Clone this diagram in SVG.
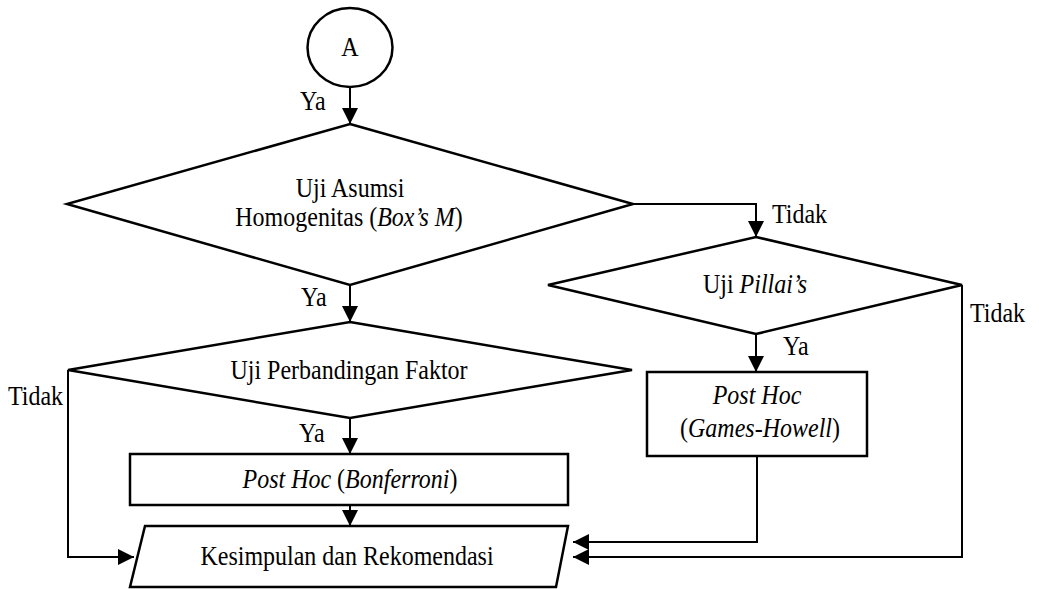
<svg xmlns="http://www.w3.org/2000/svg" width="1039" height="589" viewBox="0 0 1039 589">
<style>
.shape{fill:#fff;stroke:#000;stroke-width:2.5;stroke-linejoin:miter}
.conn{fill:none;stroke:#000;stroke-width:2}
text{font-family:"Liberation Serif","Times New Roman",serif;font-size:24px;fill:#000}
.c{text-anchor:middle}
.i{font-style:italic}
</style>
<defs>
<marker id="arr" markerUnits="userSpaceOnUse" markerWidth="16" markerHeight="16" refX="16" refY="8" orient="auto">
<path d="M0,0 L16,8 L0,16 z" fill="#000"/>
</marker>
</defs>
<rect width="1039" height="589" fill="#fff"/>
<g id="connectors">
<line class="conn" x1="350" y1="87" x2="350" y2="124" marker-end="url(#arr)"/>
<polyline class="conn" points="633,204 756,204 756,237" marker-end="url(#arr)"/>
<line class="conn" x1="350" y1="285" x2="350" y2="322" marker-end="url(#arr)"/>
<line class="conn" x1="350" y1="418" x2="350" y2="454" marker-end="url(#arr)"/>
<line class="conn" x1="350" y1="505" x2="350" y2="526" marker-end="url(#arr)"/>
<polyline class="conn" points="68,370 68,557 134,557" marker-end="url(#arr)"/>
<line class="conn" x1="756" y1="334" x2="756" y2="372" marker-end="url(#arr)"/>
<polyline class="conn" points="757,456 757,542 573,542" marker-end="url(#arr)"/>
<polyline class="conn" points="962,285 962,557 573,557" marker-end="url(#arr)"/>
<text transform="translate(300,110) scale(1,1.1)">Ya</text>
<text transform="translate(772,223) scale(1,1.1)">Tidak</text>
<text transform="translate(301,306) scale(1,1.1)">Ya</text>
<text transform="translate(8,405) scale(1,1.1)">Tidak</text>
<text transform="translate(299,442) scale(1,1.1)">Ya</text>
<text transform="translate(783,355) scale(1,1.1)">Ya</text>
<text transform="translate(970,322) scale(1,1.1)">Tidak</text>
</g>
<g id="node-a">
<ellipse class="shape" cx="350" cy="47.5" rx="42.5" ry="39.5"/>
<text class="c" transform="translate(350,56) scale(1,1.1)">A</text>
</g>
<g id="node-box-m">
<polygon class="shape" points="350,124 633,204 350,285 67,204"/>
<text class="c" transform="translate(350,197) scale(1,1.1)">Uji Asumsi</text>
<text class="c" transform="translate(349,226) scale(1,1.1)">Homogenitas (<tspan class="i">Box’s M</tspan>)</text>
</g>
<g id="node-pillai">
<polygon class="shape" points="756,237 962,285 756,334 548,285"/>
<text class="c" transform="translate(755,293) scale(1,1.1)">Uji <tspan class="i">Pillai’s</tspan></text>
</g>
<g id="node-faktor">
<polygon class="shape" points="350,322 632,370 350,418 68,370"/>
<text class="c" transform="translate(349,379) scale(1,1.1)">Uji Perbandingan Faktor</text>
</g>
<g id="node-games-howell">
<rect class="shape" x="647" y="372" width="220" height="84"/>
<text class="c i" transform="translate(757,404) scale(1,1.1)">Post Hoc</text>
<text class="c" transform="translate(760,437) scale(1,1.1)">(<tspan class="i">Games-Howell</tspan>)</text>
</g>
<g id="node-bonferroni">
<rect class="shape" x="130" y="454" width="438" height="51"/>
<text class="c" transform="translate(350,488) scale(1,1.1)"><tspan class="i">Post Hoc</tspan> (<tspan class="i">Bonferroni</tspan>)</text>
</g>
<g id="node-kesimpulan">
<polygon class="shape" points="145,526 568,526 556,587 130,587"/>
<text class="c" transform="translate(347,565) scale(1,1.1)">Kesimpulan dan Rekomendasi</text>
</g>
</svg>
